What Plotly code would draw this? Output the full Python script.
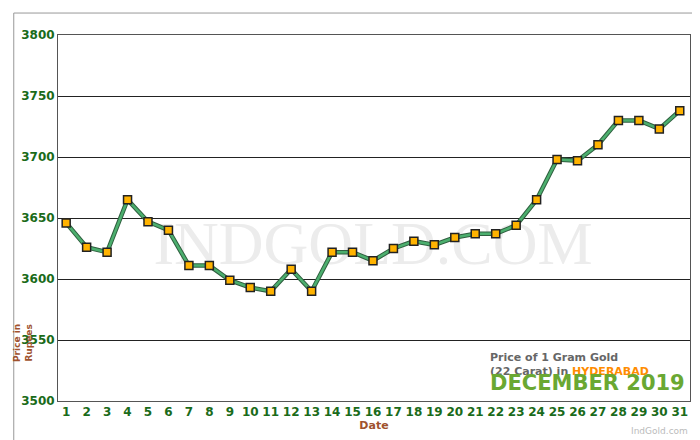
import plotly.graph_objects as go

# December 2019, Hyderabad 22 carat gold price per gram
dates = list(range(1, 32))
prices = [3646, 3626, 3622, 3665, 3647, 3640, 3611, 3611, 3599, 3593,
          3590, 3608, 3590, 3622, 3622, 3615, 3625, 3631, 3628, 3634,
          3637, 3637, 3644, 3665, 3698, 3697, 3710, 3730, 3730, 3723, 3738]
y_ticks = [3500, 3550, 3600, 3650, 3700, 3750, 3800]

fig = go.Figure()
# watermark as a text trace so it sits beneath the line
fig.add_trace(go.Scatter(x=[16], y=[3625], mode="text", text=["INDGOLD.COM"],
                         textfont=dict(family="Liberation Serif", size=62, color="#ececec"),
                         hoverinfo="skip"))
# dark outline under the green line
fig.add_trace(go.Scatter(x=dates, y=prices, mode="lines",
                         line=dict(color="#2f5f3f", width=4.5), hoverinfo="skip"))
fig.add_trace(go.Scatter(x=dates, y=prices, mode="lines+markers",
                         line=dict(color="#4caf6e", width=2.5),
                         marker=dict(symbol="square", size=8, color="#ffb300",
                                     line=dict(color="#222", width=1.5))))

fig.update_layout(
    width=700, height=440, showlegend=False,
    paper_bgcolor="white", plot_bgcolor="white",
    margin=dict(l=50, r=18, t=27, b=47),
    font=dict(family="DejaVu Sans"),
    xaxis=dict(range=[0.6, 31.5], tickvals=dates, showgrid=False, zeroline=False,
               showline=True, linecolor="#555", mirror=True, ticks="",
               tickfont=dict(color="#1a6b1a", size=12, family="DejaVu Sans", weight="bold"),
               title=dict(text="<b>Date</b>", font=dict(color="#a0522d", size=11), standoff=2)),
    yaxis=dict(range=[3500, 3800], tickvals=y_ticks, gridcolor="#222", gridwidth=1,
               zeroline=False, showline=True, linecolor="#555", mirror=True, ticks="",
               tickfont=dict(color="#1a6b1a", size=12, family="DejaVu Sans", weight="bold")),
    shapes=[dict(type="rect", xref="paper", yref="paper", x0=-0.07, x1=1.015,
                 y0=-0.11, y1=1.06, line=dict(color="#999", width=1))],
)

fig.add_annotation(text="<b>Price in<br>Rupees</b>", x=-0.075, y=0.1, xref="paper", yref="paper",
                   textangle=-90, showarrow=False, font=dict(color="#a0522d", size=9))
fig.add_annotation(text="<b>Price of 1 Gram Gold<br>(22 Carat) in <span style='color:#ff8c00'>HYDERABAD</span></b>"
                        "<br><span style='font-size:21px;color:#6aa832'><b>DECEMBER 2019</b></span>",
                   x=0.999, y=0.005, xref="paper", yref="paper", xanchor="right", yanchor="bottom",
                   align="left", showarrow=False, bgcolor="white", borderpad=3,
                   font=dict(color="#666", size=11))
fig.add_annotation(text="IndGold.com", x=1.0, y=-0.1, xref="paper", yref="paper",
                   xanchor="right", showarrow=False, font=dict(color="#bbb", size=9))

fig.write_html("out.html")
